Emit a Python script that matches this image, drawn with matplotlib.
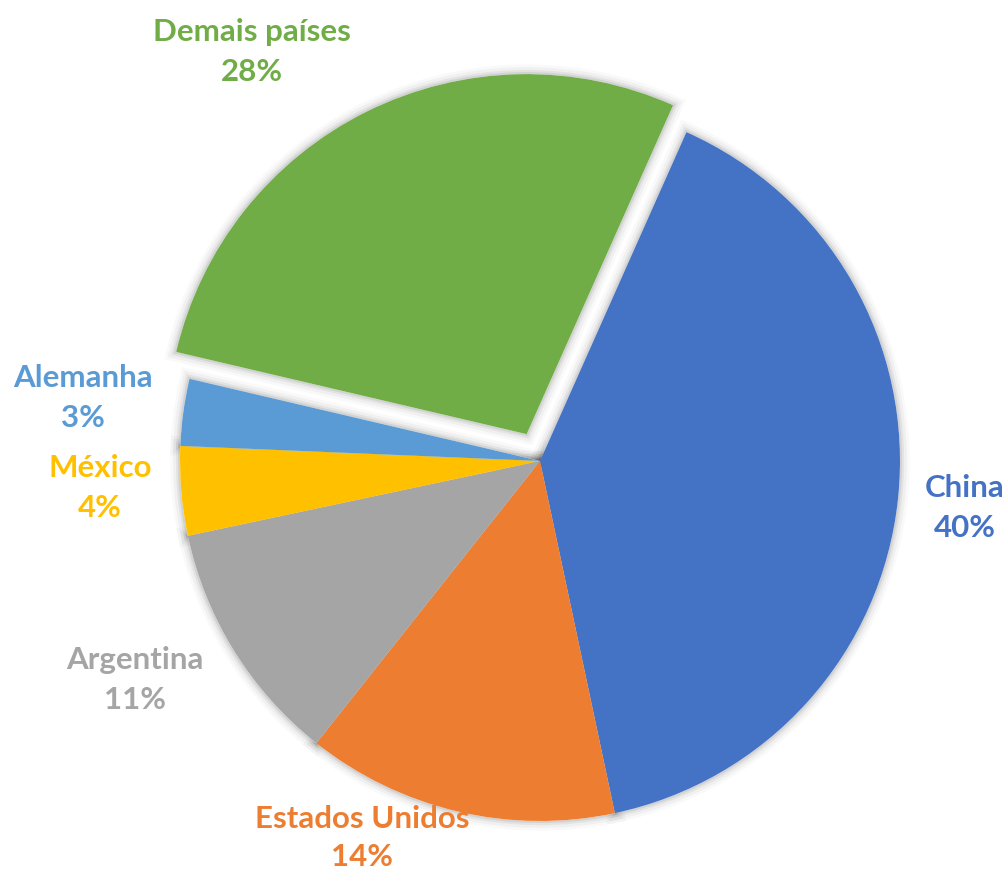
import matplotlib
matplotlib.use("Agg")
import matplotlib.pyplot as plt
import matplotlib.patheffects as pe

# data
paises = ["China", "Estados Unidos", "Argentina", "México", "Alemanha", "Demais países"]
valores = [40, 14, 11, 4, 3, 28]
cores = ["#4472C4", "#ED7D31", "#A5A5A5", "#FFC000", "#5B9BD5", "#70AD47"]

W, H = 1006, 870
fig = plt.figure(figsize=(W / 100, H / 100), dpi=100)
ax = fig.add_axes([0, 0, 1, 1])

centro = (540, H - 462)
raio = 360
# explode is in data units here (pixels), only the last slice is pulled out
explode = [0, 0, 0, 0, 0, 30]

# soft shadow: same pie drawn underneath with faint gray strokes
sombra, _ = ax.pie(valores, explode=explode, colors=["white"] * len(valores),
                   startangle=66, counterclock=False, radius=raio, center=centro)
for w in sombra:
    w.set_zorder(1)
    w.set_path_effects([
        pe.Stroke(linewidth=14, foreground="#000000", alpha=0.025),
        pe.Stroke(linewidth=10, foreground="#000000", alpha=0.035),
        pe.Stroke(linewidth=6, foreground="#000000", alpha=0.05),
        pe.Stroke(linewidth=3, foreground="#000000", alpha=0.07),
        pe.Normal(),
    ])

fatias, _ = ax.pie(valores, explode=explode, colors=cores,
                   startangle=66, counterclock=False, radius=raio, center=centro,
                   wedgeprops=dict(linewidth=0))
for w in fatias:
    w.set_zorder(2)

# label positions (pixels from top-left), centre of the two-line block
pos_rotulos = [(965, 508), (362, 838), (135, 680), (100, 488), (83, 398), (252, 52)]
espaco = [1.5, 1.4, 1.5, 1.5, 1.5, 1.5]
for nome, v, c, (px, py), ls in zip(paises, valores, cores, pos_rotulos, espaco):
    ax.text(px, H - py, f"{nome}\n{v}%", color=c, ha="center", va="center",
            fontsize=22.5, fontweight="bold", family="Lato", linespacing=ls,
            zorder=3)

ax.set_xlim(0, W)
ax.set_ylim(0, H)
ax.set_aspect("equal")
ax.axis("off")

fig.savefig("out.png", dpi=100, facecolor="white")
